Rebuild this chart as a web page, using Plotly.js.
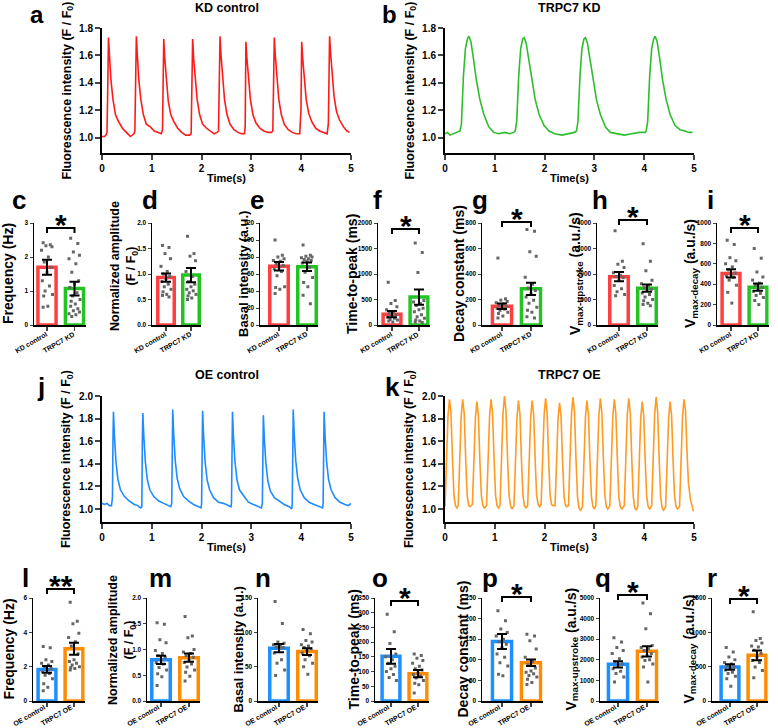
<!DOCTYPE html>
<html>
<head>
<meta charset="utf-8">
<script src="https://cdn.plot.ly/plotly-3.0.1.min.js"></script>
<style>body{margin:0;background:#fff}#plot-area{width:778px;height:728px}</style>
</head>
<body>
<div id="plot-area"></div>
<script>
// ---- calcium transients (time in s, F/F0) ----
var kdCtrlT = [0,0.05,0.08,0.10,0.115,0.13,0.15,0.18,0.22,0.27,0.33,0.41,0.49,0.57,
  0.64,0.66,0.675,0.69,0.71,0.74,0.78,0.83,0.89,0.97,1.05,1.13,1.19,
  1.215,1.225,1.24,1.26,1.29,1.33,1.38,1.44,1.52,1.60,1.68,1.76,
  1.79,1.805,1.82,1.84,1.87,1.91,1.96,2.02,2.10,2.18,2.25,2.31,
  2.34,2.355,2.37,2.39,2.42,2.46,2.51,2.57,2.65,2.73,2.80,2.86,
  2.875,2.89,2.91,2.94,2.98,3.03,3.09,3.17,3.25,3.33,3.40,
  3.43,3.445,3.46,3.48,3.51,3.55,3.60,3.66,3.74,3.82,3.90,3.97,
  3.995,4.01,4.03,4.06,4.10,4.15,4.21,4.29,4.37,4.45,4.52,
  4.545,4.555,4.57,4.59,4.62,4.66,4.71,4.77,4.85,4.92,4.97];
var kdCtrlF = [1.01,1.01,1.02,1.04,1.35,1.73,1.60,1.42,1.28,1.17,1.12,1.07,1.04,1.01,
  1.03,1.05,1.40,1.74,1.60,1.42,1.28,1.17,1.10,1.08,1.05,1.04,1.03,
  1.06,1.35,1.72,1.58,1.42,1.27,1.17,1.12,1.07,1.04,1.02,1.02,
  1.03,1.40,1.72,1.58,1.42,1.28,1.17,1.10,1.07,1.05,1.03,1.04,
  1.05,1.40,1.74,1.60,1.43,1.28,1.17,1.10,1.06,1.04,1.03,1.03,
  1.08,1.70,1.58,1.42,1.28,1.17,1.11,1.07,1.05,1.04,1.04,
  1.05,1.40,1.73,1.60,1.43,1.28,1.17,1.10,1.06,1.04,1.03,1.03,
  1.20,1.70,1.58,1.42,1.28,1.18,1.12,1.07,1.05,1.04,1.03,
  1.10,1.40,1.74,1.62,1.45,1.30,1.19,1.13,1.08,1.05,1.04];

var kdT = [0,0.05,0.10,0.18,0.26,0.30,0.33,0.37,0.41,0.45,0.48,0.52,0.57,0.63,0.70,0.78,0.88,0.98,1.08,1.20,1.30,1.38,
  1.41,1.44,1.48,1.52,1.56,1.59,1.63,1.68,1.74,1.81,1.89,1.99,2.09,2.20,2.35,2.50,2.60,
  2.64,2.67,2.71,2.75,2.79,2.82,2.86,2.91,2.97,3.04,3.12,3.22,3.32,3.45,3.60,3.75,3.90,4.02,
  4.04,4.07,4.11,4.15,4.19,4.22,4.26,4.31,4.37,4.44,4.52,4.62,4.72,4.82,4.90,4.97];
var kdF = [1.03,1.04,1.02,1.03,1.04,1.05,1.10,1.45,1.65,1.72,1.74,1.70,1.58,1.42,1.28,1.17,1.08,1.04,1.03,1.04,1.03,1.04,
  1.05,1.12,1.45,1.65,1.72,1.73,1.69,1.57,1.42,1.28,1.17,1.09,1.05,1.03,1.02,1.03,1.04,
  1.05,1.12,1.45,1.65,1.72,1.73,1.69,1.58,1.42,1.28,1.17,1.08,1.04,1.03,1.02,1.03,1.04,1.04,
  1.05,1.12,1.45,1.65,1.72,1.74,1.70,1.58,1.42,1.28,1.17,1.09,1.06,1.05,1.04,1.04];

var oeCtrlT = [0,0.05,0.10,0.15,0.19,0.21,0.22,0.23,0.25,0.28,0.32,0.37,0.45,0.55,0.65,0.72,0.77,0.80,
  0.81,0.82,0.84,0.87,0.91,0.96,1.04,1.14,1.24,1.33,1.38,1.40,
  1.41,1.42,1.44,1.47,1.51,1.56,1.64,1.74,1.84,1.94,1.99,2.00,
  2.01,2.02,2.04,2.07,2.11,2.16,2.24,2.34,2.44,2.54,2.59,2.60,
  2.61,2.62,2.64,2.67,2.71,2.76,2.84,2.94,3.04,3.14,3.20,3.22,
  3.23,3.24,3.26,3.29,3.33,3.38,3.46,3.56,3.66,3.76,3.81,3.82,
  3.83,3.84,3.86,3.89,3.93,3.98,4.06,4.16,4.26,4.36,4.43,4.44,
  4.45,4.46,4.48,4.51,4.55,4.60,4.68,4.78,4.88,4.95,5.00];
var oeCtrlF = [1.05,1.04,1.05,1.03,1.03,1.10,1.60,1.86,1.65,1.42,1.26,1.17,1.11,1.07,1.04,1.03,1.01,1.02,
  1.60,1.85,1.64,1.42,1.26,1.17,1.11,1.07,1.05,1.03,1.02,1.05,
  1.60,1.88,1.66,1.43,1.27,1.18,1.11,1.07,1.04,1.02,1.01,1.05,
  1.60,1.87,1.65,1.42,1.26,1.17,1.10,1.06,1.05,1.03,1.02,1.05,
  1.60,1.86,1.64,1.42,1.26,1.17,1.12,1.06,1.04,1.02,1.01,1.05,
  1.55,1.83,1.62,1.41,1.25,1.16,1.10,1.07,1.04,1.02,1.00,1.05,
  1.60,1.88,1.66,1.43,1.27,1.17,1.10,1.06,1.04,1.02,1.01,1.05,
  1.60,1.86,1.64,1.42,1.26,1.17,1.10,1.06,1.04,1.03,1.05];

var oeT = [0,0.03,0.06,0.09,0.12,0.15,0.18,0.21,0.24,
  0.265,0.295,0.325,0.355,0.385,0.415,0.445,0.475,0.505,
  0.55,0.58,0.61,0.64,0.67,0.70,0.73,0.76,0.79,
  0.835,0.865,0.895,0.925,0.955,0.985,1.015,1.045,1.075,
  1.105,1.135,1.165,1.195,1.225,1.255,1.285,1.315,1.345,
  1.385,1.415,1.445,1.475,1.505,1.535,1.565,1.595,1.625,
  1.66,1.69,1.72,1.75,1.78,1.81,1.84,1.87,1.90,
  1.93,1.96,1.99,2.02,2.05,2.08,2.11,2.14,2.17,
  2.21,2.24,2.27,2.30,2.33,2.36,2.39,2.42,2.45,
  2.48,2.51,2.54,2.57,2.60,2.63,2.66,2.69,2.72,
  2.76,2.79,2.82,2.85,2.88,2.91,2.94,2.97,3.00,
  3.03,3.06,3.09,3.12,3.15,3.18,3.21,3.24,3.27,
  3.31,3.34,3.37,3.40,3.43,3.46,3.49,3.52,3.55,
  3.60,3.63,3.66,3.69,3.72,3.75,3.78,3.81,3.84,
  3.87,3.90,3.93,3.96,3.99,4.02,4.05,4.08,4.11,
  4.15,4.18,4.21,4.24,4.27,4.30,4.33,4.36,4.39,
  4.43,4.46,4.49,4.52,4.55,4.58,4.61,4.64,4.67,
  4.71,4.74,4.77,4.80,4.83,4.86,4.89,4.93,4.97,4.99];
var oeF = [1.02,1.35,1.82,1.97,1.85,1.45,1.12,1.03,1.01,
  1.03,1.35,1.82,1.97,1.85,1.45,1.12,1.03,1.02,
  1.04,1.35,1.80,1.95,1.83,1.43,1.12,1.03,1.01,
  1.03,1.35,1.82,1.97,1.85,1.45,1.12,1.03,1.01,
  1.03,1.36,1.85,2.00,1.87,1.46,1.13,1.03,1.00,
  1.03,1.35,1.81,1.96,1.84,1.44,1.12,1.03,1.01,
  1.03,1.35,1.81,1.96,1.84,1.44,1.12,1.04,1.02,
  1.04,1.36,1.83,1.98,1.86,1.45,1.12,1.04,1.03,
  1.03,1.34,1.80,1.94,1.82,1.43,1.11,1.03,1.02,
  1.03,1.36,1.84,1.99,1.86,1.45,1.11,1.01,0.99,
  1.02,1.35,1.81,1.96,1.84,1.44,1.11,1.02,1.00,
  1.03,1.36,1.83,1.98,1.85,1.45,1.12,1.02,1.00,
  1.03,1.35,1.82,1.97,1.85,1.45,1.11,1.02,1.00,
  1.03,1.36,1.83,1.98,1.85,1.45,1.11,1.01,0.99,
  1.02,1.34,1.80,1.95,1.83,1.43,1.11,1.02,1.00,
  1.03,1.36,1.84,1.99,1.86,1.45,1.11,1.01,0.99,
  1.02,1.34,1.80,1.95,1.83,1.43,1.11,1.02,1.00,
  1.02,1.35,1.82,1.97,1.87,1.50,1.22,1.08,1.00,0.98];

// ---- bar summaries: [control, treated] mean, SEM and single cells ----
var kdGroups = ['KD control', 'TRPC7 KD'];
var oeGroups = ['OE control', 'TRPC7 OE'];

var cMean = [1.70, 1.07], cSem = [0.22, 0.20];
var cCtrl = [2.42,2.36,2.33,2.30,2.20,2.0,1.85,1.70,1.55,1.30,1.15,1.0,0.90,0.85,0.55,0.52];
var cKd = [2.55,2.40,2.15,2.05,1.95,1.80,1.55,1.30,1.20,1.10,0.95,0.85,0.75,0.70,0.62,0.55,0.48,0.42,0.38,0.33,0.30,0.25];
var dMean = [0.93, 0.98], dSem = [0.08, 0.14];
var dCtrl = [1.56,1.52,1.40,1.30,1.15,1.05,1.0,0.95,0.90,0.85,0.80,0.75,0.70,0.65,0.60,0.58,0.55];
var dKd = [1.74,1.40,1.35,1.26,1.05,0.95,0.85,0.80,0.75,0.70,0.67,0.63,0.60,0.57,0.53,0.50];
var eMean = [69, 68.5], eSem = [5, 5];
var eCtrl = [100,82,80,78,76,75,72,70,68,66,63,58,45,44,42,37];
var eKd = [94,82,81,80,79,78,77,76,75,73,68,62,56,50,45,35,25];
var fMean = [213, 548], fSem = [60, 150];
var fCtrl = [840,480,420,360,300,260,230,200,170,150,130,110,100,80,60];
var fKd = [1610,1420,1030,480,450,420,380,330,300,260,200,160,130,100,80,60,50];
var gMean = [147, 284], gSem = [22, 48];
var gCtrl = [525,205,195,185,175,165,155,145,140,130,125,115,100,90,70,55];
var gKd = [750,735,575,540,375,320,290,270,245,220,195,170,140,115,100,65,55];
var hMean = [1897, 1445], hSem = [180, 140];
var hCtrl = [3700,2500,2380,2250,2050,1950,1900,1850,1750,1550,1420,1300,1200,1150];
var hKd = [3190,2500,2130,1750,1620,1550,1460,1400,1350,1250,1200,1100,1000,950,850,800,750];
var iMean = [506, 371], iSem = [40, 35];
var iCtrl = [830,790,660,630,600,570,540,510,500,480,470,440,390,320,215];
var iKd = [750,655,520,470,440,410,390,370,350,330,310,290,270,240,200];

var lMean = [1.84, 3.05], lSem = [0.20, 0.35];
var lCtrl = [3.18,3.10,2.40,2.30,2.20,2.10,2.0,1.90,1.80,1.70,1.60,1.50,1.30,1.0,0.80,0.60];
var lOe = [5.75,4.65,4.50,3.95,3.70,3.45,3.20,2.75,2.40,2.30,2.20,2.10,2.0,1.95,1.90,1.80];
var mMean = [0.80, 0.84], mSem = [0.08, 0.08];
var mCtrl = [1.52,1.49,1.19,1.13,0.98,0.92,0.88,0.85,0.80,0.75,0.72,0.65,0.60,0.53,0.47,0.30];
var mOe = [1.64,1.26,1.23,1.0,0.95,0.92,0.88,0.85,0.80,0.75,0.72,0.66,0.60,0.56,0.48,0.39];
var nMean = [77, 72], nSem = [6, 5];
var nCtrl = [145,113,86,84,82,80,79,78,76,70,60,55,45,37];
var nOe = [104,98,88,86,82,80,78,76,74,70,66,60,55,50,39];
var oMean = [152, 93], oSem = [25, 12];
var oCtrl = [295,235,195,160,150,140,128,118,110,100,90,80,70];
var oOe = [160,155,145,138,128,118,110,105,95,90,85,78,70,60,55,27];
var pMean = [144.5, 93], pSem = [18, 8];
var pCtrl = [219,195,175,166,158,150,144,138,130,114,106,93,85,65,61];
var pOe = [162,158,146,126,106,95,88,80,73,70,66,62,58,53,45,40];
var qMean = [1780, 2411], qSem = [150, 250];
var qCtrl = [3070,2860,2600,2450,2300,2050,1900,1800,1730,1570,1450,1330,1170,920];
var qOe = [4760,4240,3510,2700,2600,2540,2450,2300,2200,2140,2000,1970,1800,1650,920];
var rMean = [495, 665], rSem = [40, 70];
var rCtrl = [780,715,640,600,560,540,510,495,470,450,420,400,360,325,215];
var rOe = [1300,910,880,845,800,785,740,690,640,590,560,495,445,340];

// ---- page geometry helpers ----
var W = 778, H = 728;
var FONT = 'Liberation Sans, Arial, sans-serif';
function px(x) { return x / W; }
function py(y) { return 1 - y / H; }

var JITTER = [-0.14, 0.12, -0.04, 0.18, -0.2, 0.05, -0.1, 0.15, 0.0, -0.17, 0.09, -0.07, 0.2, -0.12, 0.03];

var data = [];
var layout = {
    width: W, height: H,
    margin: {l: 0, r: 0, t: 0, b: 0},
    showlegend: false,
    paper_bgcolor: '#fff',
    plot_bgcolor: 'rgba(0,0,0,0)',
    font: {family: FONT, color: '#000'},
    annotations: [],
    shapes: []
};
var nAx = 0;

function note(text, x, y, size, extra) {
    var a = {text: text, x: px(x), y: py(y), xref: 'paper', yref: 'paper', showarrow: false,
             xanchor: 'center', yanchor: 'middle',
             font: {family: FONT, size: size, color: '#000', weight: 'bold'}};
    for (var k in extra) a[k] = extra[k];
    layout.annotations.push(a);
}

function NewAxes() {
    nAx++;
    var s = nAx === 1 ? '' : String(nAx);
    return {x: 'x' + s, y: 'y' + s, xk: 'xaxis' + s, yk: 'yaxis' + s};
}

function TracePanel(p, t, f) {
    var ax = NewAxes();
    data.push({x: t, y: f, xaxis: ax.x, yaxis: ax.y, mode: 'lines',
               line: {color: p.color, width: 1.6}, hoverinfo: 'skip'});
    layout[ax.xk] = {domain: [px(p.left), px(p.right)], range: [0, 5], anchor: ax.y,
        showline: true, linewidth: 2, linecolor: '#000', ticks: 'outside', ticklen: 5, tickwidth: 2,
        tickvals: [0, 1, 2, 3, 4, 5], showgrid: false, zeroline: false,
        tickfont: {size: 10, weight: 'bold'}};
    layout[ax.yk] = {domain: [py(p.bottom), py(p.top)], range: [p.ymin, p.ymax], anchor: ax.x,
        showline: true, linewidth: 2, linecolor: '#000', ticks: 'outside', ticklen: 5, tickwidth: 2,
        tickvals: p.yticks, tickformat: '.1f', showgrid: false, zeroline: false,
        tickfont: {size: 10, weight: 'bold'}};
    var cx = (p.left + p.right) / 2;
    note(p.title, cx, p.titleY, 12.5);
    note('Time(s)', cx, p.bottom + 25, 11);
    note('Fluorescence intensity (F / F<sub>0</sub>)', p.left - 35, (p.top + p.bottom) / 2, 12.5, {textangle: -90});
    note(p.letter, p.lx, p.ly, p.lsize || 26);
}

function BarPanel(p, groups, means, sems, dotsA, dotsB, colors) {
    var ax = NewAxes();
    var sp = p.c1 - p.c0;
    var lo = -(p.c0 - p.axis) / sp, hi = 1.4;
    data.push({type: 'bar', x: [0, 1], y: means, width: 0.66, xaxis: ax.x, yaxis: ax.y,
               marker: {color: '#fff', line: {color: colors, width: 3.5}}, hoverinfo: 'skip'});
    [dotsA, dotsB].forEach(function (d, g) {
        var xs = d.map(function (v, i) { return g + JITTER[i % JITTER.length]; });
        data.push({type: 'scatter', mode: 'markers', x: xs, y: d, xaxis: ax.x, yaxis: ax.y,
                   marker: {symbol: 'square', size: 3, color: '#666'}, hoverinfo: 'skip'});
    });
    data.push({type: 'scatter', mode: 'markers', x: [0, 1], y: means, xaxis: ax.x, yaxis: ax.y,
               marker: {size: 1, opacity: 0},
               error_y: {type: 'data', array: sems, visible: true, color: '#000', thickness: 2, width: 5},
               hoverinfo: 'skip'});
    layout[ax.xk] = {domain: [px(p.axis), px(p.c0 + hi * sp)], range: [lo, hi], anchor: ax.y,
        showline: true, linewidth: 1.5, linecolor: '#000', ticks: 'outside', ticklen: 4, tickwidth: 1.5,
        tickvals: [0, 1], showticklabels: false, showgrid: false, zeroline: false};
    layout[ax.yk] = {domain: [py(p.bottom), py(p.top)], range: [0, p.ymax], anchor: ax.x,
        showline: true, linewidth: 1.5, linecolor: '#000', ticks: 'outside', ticklen: 3, tickwidth: 1,
        dtick: p.dtick, tickformat: p.fmt || '', showgrid: false, zeroline: false,
        tickfont: {size: 6.5, weight: 'bold'}};
    // slanted group names under the bars
    groups.forEach(function (g, i) {
        note(g, p.c0 + i * sp - p.catDx, p.bottom + p.catDy, 7, {textangle: -30});
    });
    note(p.ytitle, p.labX, p.labY || (p.top + p.bottom) / 2, p.labSize || 14, {textangle: -90});
    note(p.letter, p.lx, p.ly, 26);
    if (p.sig) {
        layout.shapes.push({type: 'path', xref: ax.x, yref: 'paper',
            path: 'M0,' + py(p.sigY + 5) + ' L0,' + py(p.sigY) + ' L1,' + py(p.sigY) + ' L1,' + py(p.sigY + 5),
            line: {color: '#000', width: 2}});
        layout.annotations.push({text: p.sig, xref: ax.x, yref: 'paper', x: 0.5, y: py(p.sigY - 4),
            showarrow: false, xanchor: 'center', yanchor: 'middle',
            font: {family: FONT, size: 30, color: '#000', weight: 'bold'}});
    }
}

var RED = '#ff4040', GREEN = '#22c422', BLUE = '#1e8fff', ORANGE = '#ff8c00';

TracePanel({left: 102, right: 351, top: 28, bottom: 153, ymin: 0.89, ymax: 1.8, yticks: [1.0, 1.2, 1.4, 1.6, 1.8],
            color: '#ff1a1a', title: 'KD control', titleY: 8, letter: 'a', lx: 37, ly: 14, lsize: 24}, kdCtrlT, kdCtrlF);
TracePanel({left: 445, right: 694, top: 28, bottom: 153, ymin: 0.89, ymax: 1.8, yticks: [1.0, 1.2, 1.4, 1.6, 1.8],
            color: '#2ebd2e', title: 'TRPC7 KD', titleY: 8, letter: 'b', lx: 390, ly: 14, lsize: 24}, kdT, kdF);
TracePanel({left: 102, right: 351, top: 396, bottom: 522, ymin: 0.885, ymax: 2.0, yticks: [1.0, 1.2, 1.4, 1.6, 1.8, 2.0],
            color: '#1e8cff', title: 'OE control', titleY: 375, letter: 'j', lx: 41, ly: 387}, oeCtrlT, oeCtrlF);
TracePanel({left: 445, right: 694, top: 396, bottom: 522, ymin: 0.885, ymax: 2.0, yticks: [1.0, 1.2, 1.4, 1.6, 1.8, 2.0],
            color: '#ff9a22', title: 'TRPC7 OE', titleY: 375, letter: 'k', lx: 392, ly: 387}, oeT, oeF);

var kdCols = [RED, GREEN], oeCols = [BLUE, ORANGE];
var T1 = 223, B1 = 325, T3 = 598, B3 = 701;

BarPanel({axis: 34, c0: 47, c1: 74.5, top: T1, bottom: B1, catDx: 16, catDy: 17, ymax: 3, dtick: 1, ytitle: 'Frequency (Hz)', labX: 8,
          letter: 'c', lx: 19, ly: 200, sig: '*', sigY: 228}, kdGroups, cMean, cSem, cCtrl, cKd, kdCols);
BarPanel({axis: 152, c0: 166, c1: 191, top: T1, bottom: B1, catDx: 16, catDy: 17, ymax: 2, dtick: 0.5, fmt: '.1f',
          ytitle: 'Normalized amplitude<br>(F / F<sub>0</sub>)', labX: 124, labY: 266, labSize: 12.5,
          letter: 'd', lx: 150, ly: 200}, kdGroups, dMean, dSem, dCtrl, dKd, kdCols);
BarPanel({axis: 260, c0: 279, c1: 307, top: T1, bottom: B1, catDx: 16, catDy: 17, ymax: 120, dtick: 20,
          ytitle: 'Basal intensity (a.u.)', labX: 243, labSize: 13,
          letter: 'e', lx: 257, ly: 200}, kdGroups, eMean, eSem, eCtrl, eKd, kdCols);
BarPanel({axis: 378, c0: 392, c1: 419, top: T1, bottom: B1, catDx: 16, catDy: 17, ymax: 2000, dtick: 500, ytitle: 'Time-to-peak (ms)', labX: 352,
          letter: 'f', lx: 377, ly: 200, sig: '*', sigY: 229}, kdGroups, fMean, fSem, fCtrl, fKd, kdCols);
BarPanel({axis: 482, c0: 502, c1: 531, top: T1, bottom: B1, catDx: 16, catDy: 17, ymax: 800, dtick: 200, ytitle: 'Decay constant (ms)', labX: 459,
          letter: 'g', lx: 480, ly: 200, sig: '*', sigY: 222}, kdGroups, gMean, gSem, gCtrl, gKd, kdCols);
BarPanel({axis: 597, c0: 619, c1: 647, top: T1, bottom: B1, catDx: 16, catDy: 17, ymax: 4000, dtick: 1000,
          ytitle: 'V<sub>max-upstroke</sub> (a.u./s)', labX: 576,
          letter: 'h', lx: 600, ly: 200, sig: '*', sigY: 220}, kdGroups, hMean, hSem, hCtrl, hKd, kdCols);
BarPanel({axis: 717, c0: 731, c1: 758, top: T1, bottom: B1, catDx: 16, catDy: 17, ymax: 1000, dtick: 200,
          ytitle: 'V<sub>max-decay</sub> (a.u./s)', labX: 691,
          letter: 'i', lx: 710, ly: 200, sig: '*', sigY: 228}, kdGroups, iMean, iSem, iCtrl, iKd, kdCols);

BarPanel({axis: 33, c0: 47, c1: 74, top: T3, bottom: B3, catDx: 18, catDy: 14, ymax: 6, dtick: 2, ytitle: 'Frequency (Hz)', labX: 8,
          letter: 'l', lx: 25, ly: 578, sig: '**', sigY: 589}, oeGroups, lMean, lSem, lCtrl, lOe, oeCols);
BarPanel({axis: 147, c0: 161, c1: 189, top: T3, bottom: B3, catDx: 18, catDy: 14, ymax: 2, dtick: 0.5, fmt: '.1f',
          ytitle: 'Normalized amplitude<br>(F / F<sub>0</sub>)', labX: 122, labY: 640, labSize: 12.5,
          letter: 'm', lx: 160, ly: 578}, oeGroups, mMean, mSem, mCtrl, mOe, oeCols);
BarPanel({axis: 258, c0: 279, c1: 307, top: T3, bottom: B3, catDx: 18, catDy: 14, ymax: 150, dtick: 50,
          ytitle: 'Basal intensity (a.u.)', labX: 238, labSize: 13,
          letter: 'n', lx: 263, ly: 578}, oeGroups, nMean, nSem, nCtrl, nOe, oeCols);
BarPanel({axis: 375, c0: 391, c1: 418, top: T3, bottom: B3, catDx: 18, catDy: 14, ymax: 350, dtick: 50, ytitle: 'Time-to-peak (ms)', labX: 353,
          letter: 'o', lx: 380, ly: 578, sig: '*', sigY: 601}, oeGroups, oMean, oSem, oCtrl, oOe, oeCols);
BarPanel({axis: 482, c0: 502, c1: 531, top: T3, bottom: B3, catDx: 18, catDy: 14, ymax: 250, dtick: 50, ytitle: 'Decay constant (ms)', labX: 462,
          letter: 'p', lx: 490, ly: 578, sig: '*', sigY: 597}, oeGroups, pMean, pSem, pCtrl, pOe, oeCols);
BarPanel({axis: 600, c0: 618, c1: 647, top: T3, bottom: B3, catDx: 18, catDy: 14, ymax: 5000, dtick: 1000,
          ytitle: 'V<sub>max-upstroke</sub> (a.u./s)', labX: 571,
          letter: 'q', lx: 603, ly: 578, sig: '*', sigY: 595}, oeGroups, qMean, qSem, qCtrl, qOe, oeCols);
BarPanel({axis: 712, c0: 730, c1: 757, top: T3, bottom: B3, catDx: 18, catDy: 14, ymax: 1500, dtick: 500,
          ytitle: 'V<sub>max-decay</sub> (a.u./s)', labX: 689,
          letter: 'r', lx: 712, ly: 578, sig: '*', sigY: 599}, oeGroups, rMean, rSem, rCtrl, rOe, oeCols);

Plotly.newPlot('plot-area', data, layout, {staticPlot: true});
</script>
</body>
</html>
